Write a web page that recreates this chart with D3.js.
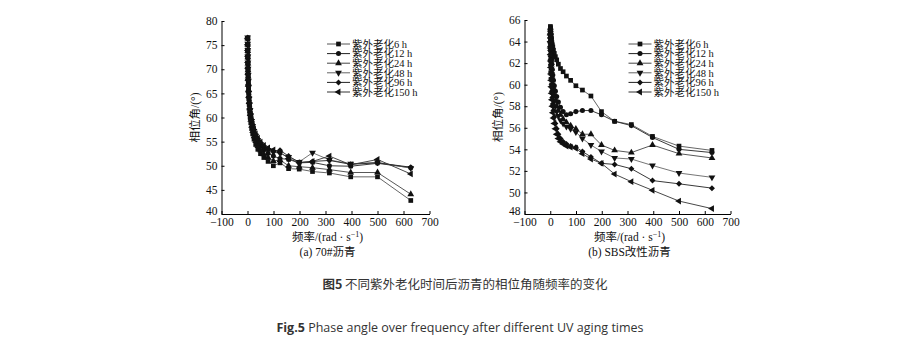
<!DOCTYPE html>
<html><head><meta charset="utf-8">
<script src="https://cdn.jsdelivr.net/npm/d3@7"></script>
<style>
body{margin:0;background:#fff;}
svg{display:block;}
</style></head>
<body>
<svg id="c" width="921" height="360"></svg>
<script>
// ---- data ----
const freq = [0.628,0.791,0.995,1.25,1.58,1.99,2.5,3.15,3.97,5.0,6.28,7.91,9.95,12.5,15.8,19.9,25.0,31.5,39.7,50.0,62.8,79.1,99.5,125,158,199,250,315,397,500,628];
const seriesNames = ["紫外老化6 h","紫外老化12 h","紫外老化24 h","紫外老化48 h","紫外老化96 h","紫外老化150 h"];
const xTicks = [-100,0,100,200,300,400,500,600,700];
const yTicksA = [40,45,50,55,60,65,70,75,80];
const yTicksB = [48,50,52,54,56,58,60,62,64,66];

// (a) 70# asphalt
const a6h   = [76.3,75.0,73.7,72.4,71.0,69.6,68.2,66.8,65.4,64.0,62.7,61.4,60.1,58.9,57.7,56.6,55.5,54.4,53.4,52.5,51.7,50.9,50.0,50.6,49.4,49.3,48.8,48.5,47.7,47.7,42.8];
const a12h  = [76.5,75.2,73.9,72.6,71.3,70.0,68.7,67.4,66.1,64.8,63.5,62.3,61.1,59.9,58.8,57.7,56.7,55.7,54.8,54.0,53.3,52.6,52.0,51.5,51.3,50.6,50.7,50.0,49.9,50.5,49.6];
const a24h  = [76.4,75.1,73.8,72.5,71.2,69.8,68.5,67.1,65.8,64.5,63.2,61.9,60.7,59.5,58.3,57.2,56.1,55.1,54.1,53.2,52.4,51.7,51.0,51.2,50.0,49.8,49.6,49.2,48.6,48.6,44.1];
const a48h  = [76.6,75.3,74.0,72.7,71.4,70.1,68.8,67.5,66.3,65.1,63.9,62.7,61.5,60.4,59.3,58.2,57.2,56.2,55.3,54.5,53.8,53.2,52.8,52.6,51.8,50.8,52.7,51.2,50.4,50.7,49.5];
const a96h  = [76.5,75.2,74.0,72.8,71.5,70.3,69.0,67.8,66.6,65.4,64.2,63.0,61.8,60.7,59.6,58.5,57.5,56.5,55.6,54.8,54.1,53.5,53.0,53.2,52.0,50.7,50.9,51.1,50.3,50.6,49.7];
const a150h = [76.4,75.1,73.9,72.7,71.4,70.2,68.9,67.7,66.5,65.3,64.1,62.9,61.8,60.7,59.6,58.6,57.6,56.6,55.7,54.9,54.2,53.7,53.3,52.8,51.5,50.6,50.9,52.0,50.2,51.3,48.3];

// (b) SBS modified asphalt
const b6h   = [65.4,65.3,65.2,65.0,64.9,64.8,64.6,64.5,64.3,64.1,63.9,63.7,63.5,63.2,62.9,62.6,62.3,61.9,61.5,61.2,60.8,60.4,59.9,59.5,58.95,57.5,56.6,56.3,55.2,54.3,53.9];
const b12h  = [65.2,65.0,64.7,64.4,64.1,63.8,63.5,63.1,62.7,62.3,61.9,61.4,60.9,60.4,59.9,59.4,58.9,58.4,57.9,57.5,57.2,57.3,57.5,57.6,57.6,57.2,56.6,56.2,55.1,54.0,53.7];
const b24h  = [65.1,64.8,64.5,64.1,63.7,63.3,62.9,62.5,62.0,61.5,61.0,60.5,60.0,59.5,59.0,58.5,58.0,57.6,57.2,56.8,56.5,56.2,55.9,55.4,55.4,54.4,53.9,53.7,54.4,53.6,53.2];
const b48h  = [65.0,64.6,64.2,63.8,63.4,63.0,62.5,62.0,61.5,61.0,60.5,60.0,59.5,59.0,58.5,58.0,57.5,57.1,56.7,56.4,56.1,55.9,55.6,55.0,54.4,53.8,53.2,53.1,52.5,51.8,51.4];
const b96h  = [64.8,64.3,63.8,63.3,62.8,62.3,61.8,61.2,60.6,60.0,59.4,58.8,58.2,57.6,57.0,56.4,55.9,55.4,55.0,54.7,54.5,54.3,54.2,53.8,53.3,52.7,52.6,52.2,51.1,50.8,50.4];
const b150h = [64.6,64.0,63.4,62.8,62.2,61.6,61.0,60.4,59.8,59.2,58.6,58.0,57.4,56.9,56.4,55.9,55.4,55.0,54.7,54.5,54.3,54.2,54.1,53.6,53.1,52.7,51.7,51.0,50.2,49.2,48.5];

const seriesA = [a6h,a12h,a24h,a48h,a96h,a150h];
const seriesB = [b6h,b12h,b24h,b48h,b96h,b150h];

// ---- drawing ----
const svg = d3.select("#c");
const serif = "'Liberation Serif','Noto Sans CJK SC',serif";
const markers = [
  {type:d3.symbolSquare, size:22, rot:0},
  {type:d3.symbolCircle, size:20, rot:0},
  {type:d3.symbolTriangle, size:20, rot:0},
  {type:d3.symbolTriangle, size:20, rot:180},
  {type:d3.symbolSquare, size:18, rot:45},
  {type:d3.symbolTriangle, size:20, rot:-90}
];
const lineColors = ["#555","#222","#444","#666","#222","#333"];

function panel(cfg){
  const g = svg.append("g");
  const x = d3.scaleLinear().domain([-100,700]).range([cfg.x0,cfg.x1]);
  const y = d3.scaleLinear().domain(cfg.yDom).range([cfg.y1,cfg.y0]);

  const xa = g.append("g").attr("transform",`translate(0,${cfg.y1})`)
    .call(d3.axisBottom(x).tickValues(xTicks).tickSizeInner(-3).tickSizeOuter(0).tickPadding(4)
      .tickFormat(d=> d<0 ? "\u2212"+Math.abs(d) : d));
  const ya = g.append("g").attr("transform",`translate(${cfg.x0},0)`)
    .call(d3.axisLeft(y).tickValues(cfg.yTicks).tickSizeInner(-3).tickSizeOuter(0).tickPadding(4));
  [xa,ya].forEach(a=>{
    a.selectAll("path").attr("stroke","#000").attr("stroke-width",1);
    a.selectAll("line").attr("stroke","#000");
    a.selectAll("text").attr("font-family",serif).attr("font-size",11.5).attr("fill","#111");
  });
  ya.selectAll("text").attr("dy",(d,i)=> i===0 ? "0.0em" : "0.32em");
  xa.selectAll("text").attr("dy","0.72em");

  const line = d3.line().x((d,i)=>x(freq[i])).y(d=>y(d));
  cfg.series.forEach((s,k)=>{
    g.append("path").datum(s).attr("d",line).attr("fill","none")
      .attr("stroke",lineColors[k]).attr("stroke-width",0.9);
  });
  cfg.series.forEach((s,k)=>{
    const m = markers[k];
    const sym = d3.symbol().type(m.type).size(m.size);
    g.append("g").selectAll("path").data(s).join("path")
      .attr("d",sym)
      .attr("transform",(d,i)=>`translate(${x(freq[i])},${y(d)}) rotate(${m.rot})`)
      .attr("fill","#111");
  });

  // legend
  const lg = g.append("g");
  seriesNames.forEach((n,k)=>{
    const yy = cfg.legY + k*9.6;
    lg.append("line").attr("x1",cfg.legX).attr("x2",cfg.legX+23).attr("y1",yy).attr("y2",yy)
      .attr("stroke",lineColors[k]).attr("stroke-width",1);
    const m = markers[k];
    lg.append("path").attr("d",d3.symbol().type(m.type).size(m.size)())
      .attr("transform",`translate(${cfg.legX+11.5},${yy}) rotate(${m.rot})`).attr("fill","#111");
    lg.append("text").attr("x",cfg.legX+25).attr("y",yy).attr("dy","0.36em")
      .attr("font-family",serif).attr("font-size",10.5).attr("fill","#111").text(n);
  });

  // axis titles
  g.append("text").attr("transform",`translate(${cfg.x0-23},${(cfg.y0+cfg.y1)/2}) rotate(-90)`)
    .attr("text-anchor","middle").attr("font-family",serif).attr("font-size",11.5).attr("fill","#111")
    .text("相位角/(°)");
  const xl = g.append("text").attr("x",(cfg.x0+cfg.x1)/2+2).attr("y",cfg.y1+27)
    .attr("text-anchor","middle").attr("font-family",serif).attr("font-size",11.5).attr("fill","#111");
  xl.append("tspan").text("频率/(rad · s");
  xl.append("tspan").attr("dy",-4).attr("font-size",8).text("−1");
  xl.append("tspan").attr("dy",4).text(")");
  g.append("text").attr("x",(cfg.x0+cfg.x1)/2+2).attr("y",cfg.y1+42)
    .attr("text-anchor","middle").attr("font-family",serif).attr("font-size",11.5).attr("fill","#111")
    .text(cfg.sub);
}

panel({x0:221.5,x1:429.5,y0:21,y1:214,yDom:[40,80],yTicks:yTicksA,series:seriesA,legX:327,legY:44,sub:"(a) 70#沥青"});
panel({x0:524.5,x1:730.5,y0:20,y1:214,yDom:[48,66],yTicks:yTicksB,series:seriesB,legX:628.5,legY:44,sub:"(b) SBS改性沥青"});

// captions
const cn = svg.append("text").attr("x",465).attr("y",289).attr("text-anchor","middle")
  .attr("font-family","'Noto Sans CJK SC',sans-serif").attr("font-size",12.5).attr("fill","#333");
cn.append("tspan").attr("font-weight","bold").text("图5");
cn.append("tspan").text(" 不同紫外老化时间后沥青的相位角随频率的变化");
const en = svg.append("text").attr("x",460).attr("y",332).attr("text-anchor","middle")
  .attr("font-family","'Open Sans','Noto Sans',sans-serif").attr("font-size",12.5).attr("fill","#333");
en.append("tspan").attr("font-weight","bold").text("Fig.5");
en.append("tspan").text(" Phase angle over frequency after different UV aging times");
</script>
</body></html>
